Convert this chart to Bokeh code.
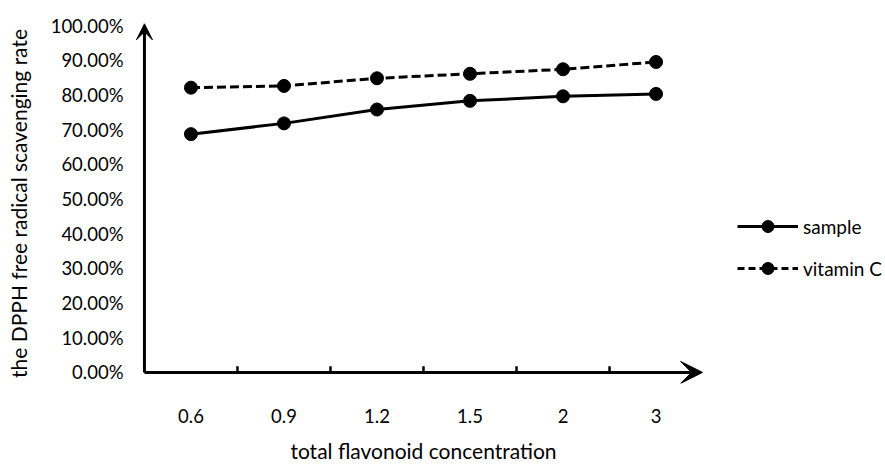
from bokeh.plotting import figure
from bokeh.layouts import row
from bokeh.models import (LinearAxis, CategoricalAxis, Range1d, FactorRange, FixedTicker,
                          NumeralTickFormatter, Arrow, VeeHead, Legend, LegendItem)
from bokeh.embed import file_html
from bokeh.resources import INLINE

categories = ["0.6", "0.9", "1.2", "1.5", "2", "3"]
sample = [0.687, 0.718, 0.758, 0.783, 0.796, 0.803]
vitamin_c = [0.821, 0.826, 0.848, 0.861, 0.874, 0.895]
y_ticks = [0.0, 0.1, 0.2, 0.3, 0.4, 0.5, 0.6, 0.7, 0.8, 0.9, 1.0]

FONT = "Lato"
TICK_FS = "18.5px"
TITLE_FS = "21px"

n = len(categories)
boundaries = list(range(1, n))  # category boundaries in synthetic coordinates

p = figure(width=716, height=465,
           x_range=FactorRange(*categories, range_padding=0.15, range_padding_units="absolute"),
           y_range=Range1d(-0.032, 1.006),
           output_backend="svg", toolbar_location=None,
           x_axis_location=None, y_axis_location=None,
           min_border_left=130, min_border_right=0, min_border_top=23, min_border_bottom=0)
p.outline_line_color = None
p.grid.visible = False

# y axis (labels only)
yaxis = LinearAxis(ticker=FixedTicker(ticks=y_ticks), formatter=NumeralTickFormatter(format="0.00%"),
                   axis_line_color=None, major_tick_line_color=None, minor_tick_line_color=None,
                   major_tick_out=0, major_tick_in=0,
                   major_label_standoff=7, major_label_text_font=FONT,
                   major_label_text_font_size=TICK_FS, major_label_text_color="black",
                   axis_label="the DPPH free radical scavenging rate", axis_label_standoff=17,
                   axis_label_text_font=FONT, axis_label_text_font_size=TITLE_FS,
                   axis_label_text_font_style="normal", axis_label_text_color="black")
p.add_layout(yaxis, "left")

cat_axis = CategoricalAxis(major_tick_line_color=None, axis_line_color=None,
                           major_tick_out=0, major_tick_in=0,
                           major_label_standoff=25, major_label_text_font=FONT,
                           major_label_text_font_size=TICK_FS, major_label_text_color="black",
                           axis_label="total flavonoid concentration", axis_label_standoff=12,
                           axis_label_text_font=FONT, axis_label_text_font_size=TITLE_FS,
                           axis_label_text_font_style="normal", axis_label_text_color="black")
p.add_layout(cat_axis, "below")

# axis arrows
p.add_layout(Arrow(end=VeeHead(size=22, fill_color="black", line_color="black"),
                   x_start=0, y_start=0, x_end=n, y_end=0,
                   line_width=3, line_color="black"))
p.add_layout(Arrow(end=VeeHead(size=16, fill_color="black", line_color="black"),
                   x_start=0, y_start=0, x_end=0, y_end=1.005,
                   line_width=3, line_color="black"))
# inward tick marks at category boundaries
p.segment(x0=boundaries, y0=[0] * len(boundaries), x1=boundaries, y1=[0.018] * len(boundaries),
          line_width=2.5, line_color="black")

p.line(categories, sample, line_width=3, color="black")
p.scatter(categories, sample, size=13, color="black")
p.line(categories, vitamin_c, line_width=3, color="black", line_dash="9 4")
p.scatter(categories, vitamin_c, size=13, color="black")

# legend panel: same series, ranged out of view so only the legend shows
q = figure(width=169, height=465, x_range=FactorRange(*categories), y_range=Range1d(5, 6),
           output_backend="svg", toolbar_location=None,
           x_axis_location=None, y_axis_location=None,
           min_border_left=0, min_border_right=0, min_border_top=0, min_border_bottom=0)
q.outline_line_color = None
q.grid.visible = False
l1 = q.line(categories, sample, line_width=3, color="black")
s1 = q.scatter(categories, sample, size=13, color="black")
l2 = q.line(categories, vitamin_c, line_width=3, color="black", line_dash="7 4")
s2 = q.scatter(categories, vitamin_c, size=13, color="black")

lg = Legend(items=[LegendItem(label="sample", renderers=[l1, s1]),
                   LegendItem(label="vitamin C", renderers=[l2, s2])],
            location=(21, 100), padding=0, margin=0, border_line_color=None,
            background_fill_alpha=0, glyph_width=61, glyph_height=30, label_height=30,
            spacing=12, label_standoff=5, label_text_font=FONT, label_text_font_size="19px",
            label_text_color="black")
q.add_layout(lg, "center")

layout = row(p, q, spacing=0)
open("out.html", "w").write(file_html(layout, INLINE))
